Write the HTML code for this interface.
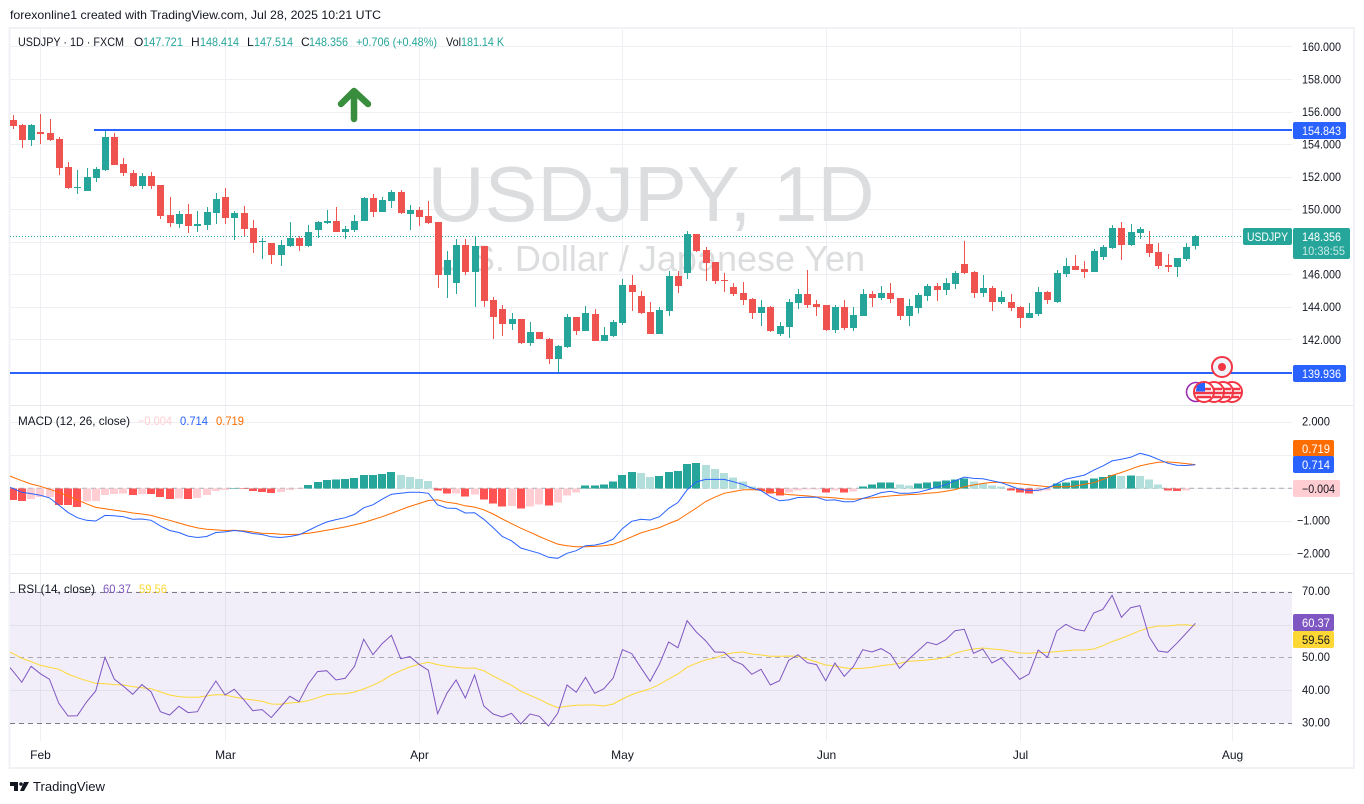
<!DOCTYPE html>
<html lang="en">
<head>
<meta charset="utf-8">
<title>USDJPY 1D chart</title>
<style>
html,body{margin:0;padding:0;background:#fff;width:1364px;height:804px;overflow:hidden}
svg{display:block;font-family:"Liberation Sans",Arial,sans-serif;font-size:12px}
.ax{fill:#131722;text-anchor:end}
</style>
</head>
<body>
<svg id="chart" xmlns="http://www.w3.org/2000/svg" width="1364" height="804" viewBox="0 0 1364 804">
  <defs><clipPath id="plot-clip"><rect x="10" y="0" width="1282" height="804"/></clipPath></defs>
  <rect x="0" y="0" width="1364" height="804" fill="#ffffff"/>
  <text x="10" y="19" fill="#131722" textLength="371" lengthAdjust="spacingAndGlyphs">forexonline1 created with TradingView.com, Jul 28, 2025 10:21 UTC</text>
  <g id="grid"></g>
  <text x="651" y="221" font-size="78" fill="#dcdddf" text-anchor="middle" textLength="447" lengthAdjust="spacingAndGlyphs">USDJPY, 1D</text>
  <text x="650" y="271" font-size="36" fill="#dcdddf" text-anchor="middle">U.S. Dollar / Japanese Yen</text>
  <rect x="10" y="591.5" width="1282" height="132" fill="#7e57c2" fill-opacity="0.1"/>
  <g id="panes"></g>
  <line x1="10" x2="1292" y1="236.5" y2="236.5" stroke="#26a69a" stroke-width="1" stroke-dasharray="1 2"/>
  <g id="candles" clip-path="url(#plot-clip)"></g>
  <line x1="94" x2="1292" y1="130" y2="130" stroke="#2962ff" stroke-width="2"/>
  <line x1="10" x2="1292" y1="373" y2="373" stroke="#2962ff" stroke-width="2"/>
  <g fill="none" stroke="#388e3c" stroke-width="6.5" stroke-linecap="round" stroke-linejoin="round">
    <path d="M354 119V91M341 104L354 91L368 104"/>
  </g>
  <g id="macd" clip-path="url(#plot-clip)"></g>
  <g id="rsi" clip-path="url(#plot-clip)"></g>
  <g id="axes"></g>

  <g lengthAdjust="spacingAndGlyphs">
    <text x="18" y="46" fill="#131722" textLength="106" lengthAdjust="spacingAndGlyphs">USDJPY · 1D · FXCM</text>
    <text x="134" y="46" fill="#131722">O</text><text x="143" y="46" fill="#26a69a" textLength="40" lengthAdjust="spacingAndGlyphs">147.721</text>
    <text x="191" y="46" fill="#131722">H</text><text x="200" y="46" fill="#26a69a" textLength="39" lengthAdjust="spacingAndGlyphs">148.414</text>
    <text x="247" y="46" fill="#131722">L</text><text x="254" y="46" fill="#26a69a" textLength="39" lengthAdjust="spacingAndGlyphs">147.514</text>
    <text x="301" y="46" fill="#131722">C</text><text x="309" y="46" fill="#26a69a" textLength="39" lengthAdjust="spacingAndGlyphs">148.356</text>
    <text x="356" y="46" fill="#26a69a" textLength="81" lengthAdjust="spacingAndGlyphs">+0.706 (+0.48%)</text>
    <text x="446" y="46" fill="#131722" textLength="15" lengthAdjust="spacingAndGlyphs">Vol</text><text x="461" y="46" fill="#26a69a" textLength="43" lengthAdjust="spacingAndGlyphs">181.14 K</text>
  </g>
  <g>
    <text x="18" y="425" fill="#131722" textLength="112" lengthAdjust="spacingAndGlyphs">MACD (12, 26, close)</text>
    <text x="138" y="425" fill="#ffcdd2" textLength="34" lengthAdjust="spacingAndGlyphs">−0.004</text>
    <text x="180" y="425" fill="#2962ff" textLength="28" lengthAdjust="spacingAndGlyphs">0.714</text>
    <text x="216" y="425" fill="#ff6d00" textLength="28" lengthAdjust="spacingAndGlyphs">0.719</text>
  </g>
  <g>
    <text x="18" y="593" fill="#131722" textLength="77" lengthAdjust="spacingAndGlyphs">RSI (14, close)</text>
    <text x="103" y="593" fill="#7e57c2" textLength="28" lengthAdjust="spacingAndGlyphs">60.37</text>
    <text x="139" y="593" fill="#fdd835" textLength="28" lengthAdjust="spacingAndGlyphs">59.56</text>
  </g>

  <g>
    <rect x="1293" y="122" width="53" height="17" rx="2" fill="#2962ff"/>
    <text x="1302" y="135" fill="#fff" textLength="39" lengthAdjust="spacingAndGlyphs">154.843</text>
    <rect x="1293" y="365" width="53" height="17" rx="2" fill="#2962ff"/>
    <text x="1302" y="378" fill="#fff" textLength="39" lengthAdjust="spacingAndGlyphs">139.936</text>
    <rect x="1243" y="228" width="49" height="17" rx="2" fill="#26a69a"/>
    <text x="1247" y="241" fill="#fff" textLength="41" lengthAdjust="spacingAndGlyphs">USDJPY</text>
    <rect x="1293" y="228" width="57" height="31" rx="2" fill="#26a69a"/>
    <text x="1302" y="241" fill="#fff" textLength="39" lengthAdjust="spacingAndGlyphs">148.356</text>
    <text x="1302" y="255" fill="#c8e8e5" textLength="43" lengthAdjust="spacingAndGlyphs">10:38:55</text>
    <rect x="1293" y="440" width="41" height="17" rx="2" fill="#ff6d00"/>
    <text x="1302" y="453" fill="#fff" textLength="28" lengthAdjust="spacingAndGlyphs">0.719</text>
    <rect x="1293" y="456" width="41" height="17" rx="2" fill="#2962ff"/>
    <text x="1302" y="469" fill="#fff" textLength="28" lengthAdjust="spacingAndGlyphs">0.714</text>
    <rect x="1293" y="480" width="47" height="17" rx="2" fill="#ffcdd2"/>
    <text x="1302" y="493" fill="#131722" textLength="33" lengthAdjust="spacingAndGlyphs">−0.004</text>
    <rect x="1293" y="614" width="41" height="17" rx="2" fill="#7e57c2"/>
    <text x="1302" y="627" fill="#fff" textLength="28" lengthAdjust="spacingAndGlyphs">60.37</text>
    <rect x="1293" y="631" width="41" height="17" rx="2" fill="#fdd835"/>
    <text x="1302" y="644" fill="#131722" textLength="28" lengthAdjust="spacingAndGlyphs">59.56</text>
  </g>

  <g>
    <circle cx="1222" cy="367" r="10" fill="#f0f3fa" stroke="#f23645" stroke-width="2"/>
    <circle cx="1222" cy="367" r="4" fill="#f23645"/>
  </g>
  <g>
    <circle cx="1196" cy="392" r="9.5" fill="#fff" stroke="#9c27b0" stroke-width="1.5"/>
  </g>
  <g>
    <g><circle cx="1232" cy="392" r="10" fill="#fff" stroke="#f23645" stroke-width="2"/><path d="M1224 389H1240M1223 393H1241M1225 397H1239" stroke="#f23645" stroke-width="2.4"/></g>
    <g><circle cx="1223" cy="392" r="10" fill="#fff" stroke="#f23645" stroke-width="2"/><path d="M1215 389H1231M1214 393H1232M1216 397H1230" stroke="#f23645" stroke-width="2.4"/></g>
    <g><circle cx="1214" cy="392" r="10" fill="#fff" stroke="#f23645" stroke-width="2"/><path d="M1206 389H1222M1205 393H1223M1207 397H1221" stroke="#f23645" stroke-width="2.4"/></g>
    <g><circle cx="1204" cy="392" r="10" fill="#fff" stroke="#f23645" stroke-width="2"/><path d="M1197 389H1211M1195 393H1213M1197 397H1211" stroke="#f23645" stroke-width="2.4"/><path d="M1196.5 386.5A9 9 0 0 1 1205 383V391.5H1196Z" fill="#2962ff"/></g>
  </g>

  <g>
    <path d="M10 782H18V791H14V786H10Z" fill="#131722"/>
    <circle cx="21" cy="784" r="1.8" fill="#131722"/>
    <path d="M24 782H29L24 791H20Z" fill="#131722"/>
    <text x="33" y="791" font-size="13" fill="#131722" textLength="72" lengthAdjust="spacingAndGlyphs">TradingView</text>
  </g>
</svg>
<script>
// One entry per trading day, starting just left of the visible pane.
const opens = [155.40,155.48,155.17,154.25,154.74,154.68,154.31,152.59,151.30,151.11,151.91,152.40,154.43,152.77,152.22,151.42,152.04,151.48,149.64,149.09,149.70,148.96,149.02,149.76,150.75,149.45,149.76,148.84,147.98,147.92,147.18,147.73,148.22,147.73,148.72,149.15,149.27,148.59,148.72,149.27,150.68,149.82,150.50,151.05,149.70,149.95,149.58,149.21,145.95,145.46,147.80,146.14,147.73,144.42,143.86,142.94,143.25,141.77,142.45,142.02,140.79,141.53,143.37,142.51,143.55,141.89,142.20,143.00,145.34,144.66,143.68,142.32,143.74,145.89,146.07,148.47,147.49,146.75,145.64,145.21,144.84,144.48,143.62,143.98,142.32,142.75,144.23,144.78,144.17,144.11,142.57,143.98,142.69,143.43,144.78,144.54,144.84,144.54,143.43,143.92,144.66,145.27,145.03,145.40,146.63,146.14,144.84,145.15,144.29,144.29,143.98,143.31,143.55,144.90,144.29,146.01,146.50,146.32,146.14,147.06,147.61,148.84,147.79,148.53,147.86,147.36,146.57,146.44,146.93,147.72];
const highs = [155.60,155.79,155.23,155.23,155.85,155.54,154.43,152.90,152.40,152.53,152.59,154.86,154.68,153.14,152.40,152.22,152.28,151.48,150.75,149.88,150.31,149.88,150.13,150.99,151.30,149.88,150.19,149.33,148.22,147.92,148.10,149.21,148.35,149.02,149.27,149.95,150.13,148.96,149.64,150.75,150.93,150.75,151.17,151.17,150.25,150.13,150.50,149.21,147.43,148.16,148.16,148.29,147.73,144.60,144.11,143.62,143.25,143.06,142.45,142.08,141.65,143.55,143.37,144.05,143.86,142.75,143.18,145.70,145.95,144.97,144.29,143.98,146.20,146.20,148.66,148.47,147.67,146.75,146.07,145.46,145.52,144.54,144.42,144.05,143.06,144.48,145.09,146.26,144.41,144.11,144.11,144.41,143.98,145.09,144.97,145.27,145.46,144.54,144.47,144.84,145.40,145.46,145.77,146.20,148.04,146.20,145.95,145.27,144.97,144.78,144.05,144.23,145.21,144.97,146.26,146.99,147.18,146.81,147.55,147.79,149.02,149.21,149.09,148.90,148.65,147.92,147.24,146.99,147.92,148.41];
const lows = [155.20,154.93,153.76,153.88,154.00,154.19,152.10,151.24,150.93,151.11,151.67,152.34,152.71,152.04,151.36,151.24,151.24,149.39,148.90,148.84,148.53,148.59,148.72,149.09,149.09,148.10,148.35,147.30,146.93,146.63,146.50,147.67,147.43,147.67,148.22,149.09,148.59,148.16,148.59,149.27,149.52,149.82,150.07,149.70,148.72,148.96,149.09,145.15,144.54,144.78,145.95,143.98,143.98,142.02,142.20,142.57,141.71,141.59,142.02,140.48,139.93,141.46,142.26,142.51,141.89,141.89,142.14,142.88,143.74,143.55,142.32,142.32,143.43,144.85,145.70,147.37,145.58,145.40,144.90,144.66,144.11,143.25,142.82,142.45,142.20,142.08,143.86,143.92,143.43,142.51,142.39,142.57,142.51,143.43,143.98,144.41,144.23,143.18,142.82,143.58,144.35,144.35,144.72,145.09,146.01,144.54,144.60,143.74,144.17,143.74,142.69,143.31,143.43,144.17,144.23,145.83,146.26,145.77,146.14,146.87,147.55,146.87,147.73,148.16,147.06,146.32,146.14,145.83,146.81,147.51];
const closes = [155.48,155.11,154.25,155.17,154.62,154.25,152.53,151.30,151.36,151.97,152.47,154.43,152.71,152.22,151.42,152.04,151.42,149.58,149.15,149.70,148.96,149.09,149.82,150.62,149.45,149.76,148.78,147.92,148.04,147.18,147.80,148.22,147.73,148.59,149.21,149.27,148.59,148.78,149.27,150.68,149.82,150.56,151.05,149.76,149.95,149.52,149.15,145.95,146.87,147.80,146.14,147.73,144.35,143.37,142.94,143.25,141.77,142.45,142.02,140.79,141.59,143.37,142.51,143.62,141.89,142.26,143.06,145.34,144.90,143.62,142.32,143.80,145.89,145.28,148.47,147.43,146.69,145.58,145.58,144.78,144.42,143.62,143.98,142.51,142.82,144.29,144.78,144.11,143.98,142.57,143.98,142.69,143.49,144.78,144.54,144.84,144.47,143.43,144.05,144.72,145.27,145.03,145.46,146.07,146.07,144.84,145.15,144.29,144.60,143.92,143.31,143.62,144.90,144.41,146.07,146.50,146.26,146.14,147.43,147.67,148.84,147.79,148.59,148.78,147.30,146.50,146.44,146.99,147.67,148.36];
const macdLine = [0.10,0.00,-0.12,-0.16,-0.21,-0.29,-0.51,-0.73,-0.89,-0.97,-0.99,-0.82,-0.83,-0.86,-0.94,-0.93,-0.97,-1.14,-1.28,-1.34,-1.45,-1.49,-1.46,-1.34,-1.32,-1.28,-1.31,-1.37,-1.40,-1.47,-1.49,-1.46,-1.41,-1.28,-1.14,-1.02,-0.95,-0.89,-0.79,-0.59,-0.50,-0.33,-0.18,-0.15,-0.12,-0.12,-0.15,-0.50,-0.60,-0.61,-0.75,-0.74,-0.94,-1.19,-1.46,-1.59,-1.81,-1.89,-1.97,-2.09,-2.12,-1.97,-1.89,-1.74,-1.72,-1.66,-1.54,-1.22,-1.00,-0.94,-0.96,-0.86,-0.61,-0.43,-0.05,0.19,0.27,0.27,0.27,0.20,0.12,0.01,-0.07,-0.25,-0.38,-0.35,-0.28,-0.27,-0.27,-0.36,-0.35,-0.41,-0.41,-0.31,-0.23,-0.13,-0.09,-0.15,-0.15,-0.12,-0.05,0.03,0.11,0.23,0.34,0.30,0.29,0.23,0.17,0.07,-0.03,-0.07,-0.06,0.01,0.14,0.28,0.34,0.40,0.55,0.68,0.83,0.88,0.94,1.06,0.99,0.88,0.76,0.70,0.69,0.714];
const signalLine = [0.45,0.34,0.23,0.13,0.06,-0.03,-0.12,-0.23,-0.35,-0.47,-0.58,-0.62,-0.66,-0.70,-0.75,-0.78,-0.82,-0.90,-0.97,-1.05,-1.13,-1.20,-1.24,-1.26,-1.28,-1.27,-1.29,-1.32,-1.36,-1.37,-1.39,-1.40,-1.39,-1.36,-1.32,-1.27,-1.22,-1.17,-1.11,-1.04,-0.95,-0.86,-0.76,-0.65,-0.55,-0.46,-0.37,-0.35,-0.42,-0.46,-0.53,-0.57,-0.65,-0.78,-0.93,-1.07,-1.21,-1.33,-1.46,-1.58,-1.69,-1.74,-1.77,-1.77,-1.76,-1.74,-1.70,-1.59,-1.47,-1.35,-1.27,-1.19,-1.07,-0.96,-0.78,-0.60,-0.40,-0.27,-0.15,-0.10,-0.05,-0.04,-0.06,-0.11,-0.15,-0.19,-0.21,-0.23,-0.26,-0.27,-0.29,-0.32,-0.33,-0.31,-0.29,-0.26,-0.23,-0.21,-0.19,-0.18,-0.15,-0.13,-0.09,-0.04,0.05,0.10,0.15,0.18,0.18,0.16,0.14,0.11,0.08,0.05,0.05,0.05,0.07,0.12,0.17,0.27,0.39,0.48,0.58,0.68,0.74,0.79,0.80,0.78,0.75,0.719];
const histogram = [-0.30,-0.35,-0.38,-0.32,-0.27,-0.26,-0.50,-0.50,-0.56,-0.40,-0.39,-0.20,-0.17,-0.16,-0.20,-0.17,-0.17,-0.26,-0.32,-0.31,-0.32,-0.29,-0.20,-0.08,-0.05,0.01,-0.02,-0.08,-0.11,-0.14,-0.11,-0.05,-0.02,0.10,0.19,0.25,0.26,0.28,0.31,0.40,0.41,0.43,0.49,0.40,0.34,0.28,0.22,-0.07,-0.16,-0.15,-0.25,-0.19,-0.34,-0.46,-0.55,-0.54,-0.61,-0.55,-0.49,-0.52,-0.43,-0.22,-0.13,0.08,0.09,0.11,0.20,0.41,0.50,0.47,0.35,0.38,0.50,0.53,0.74,0.77,0.71,0.59,0.47,0.32,0.20,0.05,-0.07,-0.16,-0.22,-0.13,-0.07,-0.04,-0.03,-0.13,-0.07,-0.13,-0.10,0.05,0.11,0.17,0.18,0.11,0.08,0.14,0.17,0.20,0.23,0.26,0.29,0.20,0.14,0.08,0.05,-0.07,-0.13,-0.16,-0.10,-0.07,0.14,0.17,0.23,0.24,0.29,0.35,0.41,0.38,0.39,0.38,0.26,0.11,-0.06,-0.08,-0.06,-0.004];
const rsiLine = [49.20,45.97,42.43,47.29,45.06,43.34,36.04,32.19,32.29,36.45,39.79,50.02,43.44,41.21,38.78,41.72,39.49,33.51,32.50,35.13,33.21,33.51,38.58,42.83,38.58,40.30,37.16,33.81,34.12,31.69,34.93,38.17,36.55,41.92,45.67,45.97,43.13,43.64,47.29,55.50,50.83,54.18,56.71,49.62,50.23,47.90,46.07,32.90,39.08,43.13,37.66,44.65,35.23,32.80,31.89,33.00,29.76,32.80,32.09,29.15,33.00,41.62,39.39,43.94,39.08,40.50,43.74,52.35,51.14,46.88,42.73,47.90,54.68,52.96,61.17,57.72,55.09,51.65,51.54,49.01,47.80,44.86,46.38,41.62,42.93,49.11,50.83,48.40,47.80,42.93,48.30,44.25,47.19,52.35,51.65,52.66,51.04,46.68,49.52,52.05,54.58,53.87,55.39,58.13,58.53,51.24,52.56,48.30,49.82,46.68,43.34,44.96,52.25,50.02,58.03,60.05,58.53,58.03,63.50,64.61,68.87,62.18,65.12,65.73,56.31,51.95,51.54,54.28,57.32,60.37];
const rsiSma = [52.35,51.24,49.72,48.71,47.59,46.98,46.38,44.96,43.84,42.93,42.12,42.02,41.72,41.61,41.11,40.80,40.50,39.49,38.58,38.07,37.87,37.87,38.27,38.68,38.58,37.97,37.46,37.06,36.65,35.84,35.74,36.14,36.35,36.85,37.76,38.68,38.88,38.98,39.49,40.40,41.51,42.93,44.65,45.97,47.09,47.90,48.50,47.80,47.29,46.98,46.68,46.78,45.97,44.35,42.93,41.51,39.69,38.47,37.26,35.84,34.73,35.13,35.43,35.54,35.54,35.23,35.84,37.36,38.68,39.59,40.50,41.72,43.44,44.96,46.98,48.20,49.21,49.82,50.83,51.44,51.65,51.04,50.73,50.33,50.33,50.43,50.33,49.52,48.61,47.69,47.39,46.88,46.58,46.68,46.98,47.49,47.80,48.20,48.81,49.01,49.21,49.52,50.02,51.24,52.05,52.56,52.86,52.56,52.35,51.85,51.34,51.24,51.44,51.54,51.75,52.05,52.25,52.25,52.56,53.57,54.79,55.80,56.91,58.13,59.04,59.55,59.55,59.85,59.95,59.56];
const monthLabels = ['Feb','Mar','Apr','May','Jun','Jul','Aug'];
const monthBars = [4,24,45,67,89,110,133];
const priceTicks = [160,158,156,154,152,150,148,146,144,142,140];
const hiddenPriceTicks = [148,140];
const macdTicks = [2,1,0,-1,-2];
const macdLabelTicks = [2,-1,-2];
const rsiTicks = [70,60,50,40,30];
const rsiLabelTicks = [70,50,40,30];

const NS = 'http://www.w3.org/2000/svg';
const xBar = i => 40.3 + 9.24 * (i - 4);
const yPrice = p => 111.5 + (156 - p) * 16.27;
const yMacd = v => 488.3 - 33 * v;
const yRsi = v => 657.4 - 3.29 * (v - 50);
function mk(tag, attrs, parent) {
  const el = document.createElementNS(NS, tag);
  for (const k in attrs) el.setAttribute(k, attrs[k]);
  parent.appendChild(el);
  return el;
}
const fmt = v => (v < 0 ? '\u2212' : '') + Math.abs(v).toFixed(3);
const gridG = document.getElementById('grid');
const axesG = document.getElementById('axes');
const panesG = document.getElementById('panes');
const candlesG = document.getElementById('candles');
const macdG = document.getElementById('macd');
const rsiG = document.getElementById('rsi');
const GRID = '#eeeff3';

monthBars.forEach((b, k) => {
  const x = Math.round(xBar(b)) + 0.5;
  const ln = mk('line', {x1: x, x2: x, y1: 29, y2: 741, stroke: GRID}, gridG);
  
  
  const t = mk('text', {x: x, y: 759, fill: '#131722', 'text-anchor': 'middle'}, axesG);
  t.textContent = monthLabels[k];
  
  
});
priceTicks.forEach(p => {
  const y = Math.round(yPrice(p)) + 0.5;
  const ln = mk('line', {x1: 10, x2: 1292, y1: y, y2: y, stroke: GRID}, gridG);
  
  
  if (hiddenPriceTicks.indexOf(p) < 0) {
    const t = mk('text', {x: 1341, y: yPrice(p) + 4.5, class: 'ax', textLength: 39, lengthAdjust: 'spacingAndGlyphs'}, axesG);
    t.textContent = p.toFixed(3);
    
    
  }
});
macdTicks.forEach(v => {
  const y = Math.round(yMacd(v)) + 0.5;
  const ln = mk('line', {x1: 10, x2: 1292, y1: y, y2: y, stroke: GRID}, gridG);
  
  
});
macdLabelTicks.forEach(v => {
  const t = mk('text', {x: 1330, y: yMacd(v) + 3, class: 'ax', textLength: v < 0 ? 33 : 28, lengthAdjust: 'spacingAndGlyphs'}, axesG);
  t.textContent = fmt(v);
  
  
});
rsiTicks.forEach(v => {
  const y = Math.round(yRsi(v)) + 0.5;
  const dashed = v === 70 || v === 50 || v === 30;
  const ln = mk('line', {x1: 10, x2: 1292, y1: y, y2: y, stroke: dashed ? '#787b86' : '#e3e0ee', 'stroke-opacity': v === 50 ? 0.6 : 1, 'stroke-dasharray': dashed ? '5 4' : 'none'}, rsiG);
  
  
});
rsiLabelTicks.forEach(v => {
  const t = mk('text', {x: 1330, y: yRsi(v) + 3.5, class: 'ax', textLength: 28, lengthAdjust: 'spacingAndGlyphs'}, axesG);
  t.textContent = v.toFixed(2);
  
  
});

[405.5, 573.5].forEach(y => {
  const ln = mk('line', {x1: 10, x2: 1354, y1: y, y2: y, stroke: '#e6e8ee', 'stroke-width': 1}, panesG);
  
  
});
[28, 768].forEach(y => {
  const ln = mk('line', {x1: 9, x2: 1355, y1: y, y2: y, stroke: '#f0f2f6', 'stroke-width': 2}, panesG);
  
  
});
[9.5, 1354].forEach(x => {
  const ln = mk('line', {x1: x, x2: x, y1: 27, y2: 769, stroke: '#f0f2f6', 'stroke-width': 2}, panesG);
  
  
});

closes.forEach((c, i) => {
  const o = opens[i];
  const col = c >= o ? '#26a69a' : '#ef5350';
  const cx = Math.round(xBar(i));
  const top = yPrice(Math.max(o, c));
  const bot = yPrice(Math.min(o, c));
  const wick = mk('rect', {x: cx, y: yPrice(highs[i]), width: 1, height: yPrice(lows[i]) - yPrice(highs[i]), fill: col, 'shape-rendering': 'crispEdges'}, candlesG);
  
  
  const body = mk('rect', {x: cx - 3, y: top, width: 7, height: Math.max(1, bot - top), fill: col, 'shape-rendering': 'crispEdges'}, candlesG);
  
  
});

const zero = mk('line', {x1: 10, x2: 1292, y1: yMacd(0), y2: yMacd(0), stroke: '#787b86', 'stroke-opacity': 0.6, 'stroke-dasharray': '5 4'}, macdG);


histogram.forEach((v, i) => {
  const prev = i ? histogram[i - 1] : v - 0.01;
  const col = v >= 0 ? (prev < v ? '#26a69a' : '#b2dfdb') : (prev < v ? '#ffcdd2' : '#ff5252');
  const y0 = yMacd(0), y1 = yMacd(v);
  const bar = mk('rect', {x: Math.round(xBar(i)) - 4, y: Math.min(y0, y1), width: 8, height: Math.abs(y1 - y0), fill: col, 'shape-rendering': 'crispEdges'}, macdG);
  
  
});
function linePts(arr, yFn) {
  return arr.map((v, i) => xBar(i).toFixed(1) + ',' + yFn(v).toFixed(1)).join(' ');
}
const sigL = mk('polyline', {points: linePts(signalLine, yMacd), fill: 'none', stroke: '#ff6d00', 'stroke-width': 1}, macdG);


const macL = mk('polyline', {points: linePts(macdLine, yMacd), fill: 'none', stroke: '#2962ff', 'stroke-width': 1}, macdG);


const smaL = mk('polyline', {points: linePts(rsiSma, yRsi), fill: 'none', stroke: '#fdd835', 'stroke-width': 1}, rsiG);


const rsiL = mk('polyline', {points: linePts(rsiLine, yRsi), fill: 'none', stroke: '#7e57c2', 'stroke-width': 1}, rsiG);


</script>
</body>
</html>
